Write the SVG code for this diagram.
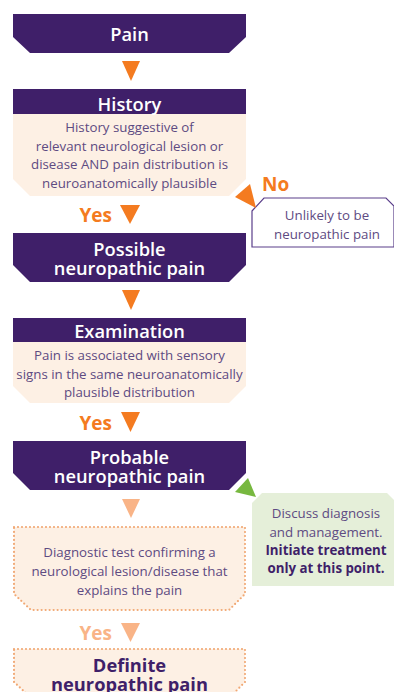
<svg xmlns="http://www.w3.org/2000/svg" width="394" height="692" viewBox="0 0 394 692">
<style>
.purple{fill:#3f1f69}
.light{fill:#fdf0e4}
.hd{font-family:"Open Sans","DejaVu Sans",sans-serif;font-weight:600;font-size:18.3px;fill:#ffffff;text-anchor:middle}
.hdd{font-family:"Open Sans","DejaVu Sans",sans-serif;font-weight:700;font-size:18.3px;fill:#3f1f69;text-anchor:middle}
.body{font-family:"Open Sans","Liberation Sans",sans-serif;font-size:13.3px;fill:#5e4b82;text-anchor:middle}
.bold{font-family:"Open Sans","Liberation Sans",sans-serif;font-size:13.3px;font-weight:700;fill:#3f1f69;text-anchor:middle}
.yes{font-family:"Open Sans","DejaVu Sans",sans-serif;font-weight:700;font-size:19px;fill:#f47b20}
.faded{fill:#f9b487}
.arrow{fill:#f47b20}
.dotted{fill:#fdf0e4;stroke:#f1a874;stroke-width:2.2;stroke-dasharray:0 4;stroke-linecap:round}
</style>
<rect width="394" height="692" fill="#ffffff"/>
<g id="pain">
<polygon class="purple" points="13,14 246,14 246,37 229,53 30,53 13,37"/>
<text class="hd" x="129.5" y="40.5">Pain</text>
</g>
<g id="history">
<rect class="purple" x="13" y="89" width="233" height="25"/>
<polygon class="light" points="13,114 246,114 246,179 229,196 30,196 13,179"/>
<text class="hd" x="129.5" y="110.5">History</text>
<text class="body" x="129.5" y="132">History suggestive of</text>
<text class="body" x="129.5" y="150.5">relevant neurological lesion or</text>
<text class="body" x="129.5" y="169">disease AND pain distribution is</text>
<text class="body" x="129.5" y="187.5">neuroanatomically plausible</text>
</g>
<g id="unlikely">
<polygon points="252,211 264,198 386,198 394,206 394,247 252,247" fill="#ffffff" stroke="#5a3e8a" stroke-width="1.2"/>
<text class="body" x="327" y="220">Unlikely to be</text>
<text class="body" x="327" y="239">neuropathic pain</text>
</g>
<g id="possible">
<polygon class="purple" points="13,233 246,233 246,265 229,282 30,282 13,265"/>
<text class="hd" x="129.5" y="256">Possible</text>
<text class="hd" x="129.5" y="274.5">neuropathic pain</text>
</g>
<g id="examination">
<rect class="purple" x="13" y="318" width="233" height="24"/>
<polygon class="light" points="13,342 246,342 246,386 229,403 30,403 13,386"/>
<text class="hd" x="129.5" y="337.5">Examination</text>
<text class="body" x="129.5" y="360">Pain is associated with sensory</text>
<text class="body" x="129.5" y="378.5">signs in the same neuroanatomically</text>
<text class="body" x="129.5" y="397">plausible distribution</text>
</g>
<g id="probable">
<polygon class="purple" points="13,441 246,441 246,473 229,490 30,490 13,473"/>
<text class="hd" x="129.5" y="464">Probable</text>
<text class="hd" x="129.5" y="483">neuropathic pain</text>
</g>
<g id="discuss">
<polygon points="262,493 387,493 394,500 394,586 252,586 252,503" fill="#e5efd9"/>
<text class="body" x="326" y="518">Discuss diagnosis</text>
<text class="body" x="326" y="537">and management.</text>
<text class="bold" x="326" y="555">Initiate treatment</text>
<text class="bold" x="326" y="573">only at this point.</text>
</g>
<g id="diagnostic">
<polygon class="dotted" points="14,527 245,527 245,594 229,610 31,610 14,594"/>
<text class="body" x="129.5" y="557">Diagnostic test confirming a</text>
<text class="body" x="129.5" y="576">neurological lesion/disease that</text>
<text class="body" x="129.5" y="594.5">explains the pain</text>
</g>
<g id="definite">
<polygon class="dotted" points="14,649 245,649 245,682 229,698 31,698 14,682"/>
<text class="hdd" x="129.5" y="672">Definite</text>
<text class="hdd" x="129.5" y="690.5">neuropathic pain</text>
</g>
<g id="connectors">
<polygon class="arrow" points="122,61 140,61 131,81"/>
<text class="yes" x="112" y="222" text-anchor="end">Yes</text>
<polygon class="arrow" points="120,205 140,205 130,224"/>
<polygon class="arrow" points="250,184 235,197 256,208"/>
<text class="yes" x="262" y="191">No</text>
<polygon class="arrow" points="122,290 140,290 131,310"/>
<text class="yes" x="112" y="430" text-anchor="end">Yes</text>
<polygon class="arrow" points="121,412 140,412 130.5,432"/>
<polygon points="248,478 235,492 256,497" fill="#77b83f"/>
<polygon class="faded" points="122,499 140,499 131,518"/>
<text class="yes" x="112" y="640" text-anchor="end" style="fill:#f9b487">Yes</text>
<polygon class="faded" points="121,623 140,623 130.5,642"/>
</g>
</svg>
